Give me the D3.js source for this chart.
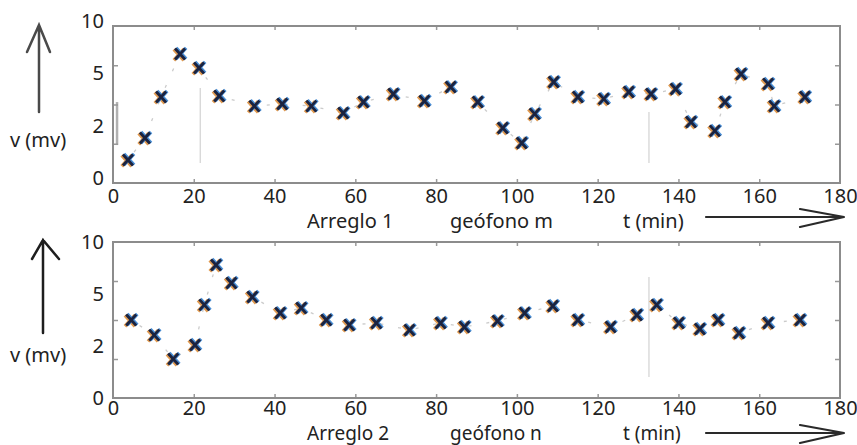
<!DOCTYPE html>
<html><head><meta charset="utf-8">
<script src="https://cdn.jsdelivr.net/npm/d3@7"></script>
<style>body{margin:0;background:#fff}svg{display:block;font-family:"Noto Sans",sans-serif}</style>
</head><body><svg id="c" width="857" height="445"></svg>
<script>
// ---- data ----
const xTickValues = [0, 20, 40, 60, 80, 100, 120, 140, 160, 180];
const yTickValues = [0, 2, 5, 10];
const yAxisLabel = "v (mv)";

const t1 = [3.7, 7.9, 11.9, 16.6, 21.3, 26.3, 35.0, 41.9, 49.1, 57.0, 62.0, 69.4, 77.1, 83.6, 90.3, 96.5, 101.2, 104.4, 109.1, 115.1, 121.5, 127.7, 133.2, 139.3, 143.1, 149.0, 151.5, 155.5, 162.2, 163.7, 171.3];
const v1 = [0.88, 1.72, 3.93, 7.33, 5.99, 3.99, 3.41, 3.53, 3.41, 3.01, 3.64, 4.10, 3.70, 4.50, 3.64, 2.15, 1.53, 2.96, 4.79, 3.93, 3.82, 4.22, 4.10, 4.39, 2.50, 1.99, 3.64, 5.42, 4.68, 3.41, 3.93];

const t2 = [4.5, 10.2, 14.9, 20.3, 22.6, 25.5, 29.3, 34.5, 41.4, 46.6, 52.8, 58.5, 65.2, 73.4, 81.1, 87.0, 95.2, 101.9, 108.9, 115.1, 123.2, 129.7, 134.6, 140.1, 145.3, 149.8, 155.0, 162.2, 170.1];
const v2 = [3.5, 2.63, 1.5, 2.06, 4.37, 7.79, 6.06, 4.83, 3.90, 4.19, 3.5, 3.21, 3.33, 2.92, 3.33, 3.10, 3.44, 3.90, 4.31, 3.5, 3.10, 3.79, 4.37, 3.33, 2.98, 3.5, 2.75, 3.33, 3.5];

const labels1 = ["Arreglo 1", "geófono m", "t (min)"];
const labels2 = ["Arreglo 2", "geófono n", "t (min)"];

// faint scan artefacts: [t, vFrom, vTo]
const faint1 = [[21.6, 0.76, 4.45], [132.7, 0.76, 3.07]];
const bracket1 = [[1.0, 1.45, 3.64]];
const faint2 = [[132.7, 0.81, 6.63]];

// ---- layout ----
const svg = d3.select("#c");
const X0 = 113, X1 = 840;
const panels = [
  {top: 26, bottom: 183, t: t1, v: v1, labels: labels1, faint: faint1, bracket: bracket1,
   yLabShift: -5, xPad: 6, textBase: 228, textSize: 20, vArrow: [39, 25, 112, 27, 50, 52], vArrowCol: "#4a4a4a", hArrowY: 217, vLabY: 147},
  {top: 242, bottom: 398, t: t2, v: v2, labels: labels2, faint: faint2, bracket: [],
   yLabShift: 0, xPad: 3, textBase: 440, textSize: 19, vArrow: [43, 240, 333, 32, 59, 259], vArrowCol: "#1e1e1e", hArrowY: 433, vLabY: 362}
];
const textX = [307, 450, 623];

const x = d3.scaleLinear().domain([0, 180]).range([X0, X1]);
const frameCol = "#8c8c8c";

panels.forEach(p => {
  const h = p.bottom - p.top;
  const y = d3.scaleLinear().domain(yTickValues).range([p.bottom, p.bottom - h/3, p.bottom - 2*h/3, p.top]);
  const q = d3.scaleLinear().domain([0, 4]).range([p.bottom, p.top]);
  const g = svg.append("g");

  // faint artefact lines
  p.faint.forEach(d => g.append("line").attr("x1", x(d[0])).attr("x2", x(d[0]))
    .attr("y1", y(d[1])).attr("y2", y(d[2])).attr("stroke", "#d2d2d2").attr("stroke-width", 1.2));
  p.bracket.forEach(d => g.append("line").attr("x1", x(d[0])).attr("x2", x(d[0]))
    .attr("y1", y(d[1])).attr("y2", y(d[2])).attr("stroke", "#b0b0b0").attr("stroke-width", 2.5));

  // minor tick marks (inside frame)
  const tickCol = "#999";
  const xt = xTickValues.slice(1, -1);
  g.append("g").attr("transform", `translate(0,${p.top})`)
    .call(d3.axisBottom(x).tickValues(xt).tickSize(4).tickFormat(""))
    .call(a => a.select(".domain").remove()).selectAll("line").attr("stroke", tickCol).attr("stroke-width", 1.5);
  g.append("g").attr("transform", `translate(0,${p.bottom})`)
    .call(d3.axisTop(x).tickValues(xt).tickSize(4).tickFormat(""))
    .call(a => a.select(".domain").remove()).selectAll("line").attr("stroke", tickCol).attr("stroke-width", 1.5);
  g.append("g").attr("transform", `translate(${X0},0)`)
    .call(d3.axisRight(q).tickValues([1, 2, 3]).tickSize(5).tickFormat(""))
    .call(a => a.select(".domain").remove()).selectAll("line").attr("stroke", tickCol).attr("stroke-width", 1.5);
  g.append("g").attr("transform", `translate(${X1},0)`)
    .call(d3.axisLeft(q).tickValues([1, 2, 3]).tickSize(5).tickFormat(""))
    .call(a => a.select(".domain").remove()).selectAll("line").attr("stroke", tickCol).attr("stroke-width", 1.5);

  // frame
  g.append("rect").attr("x", X0).attr("y", p.top).attr("width", X1 - X0).attr("height", h)
    .attr("fill", "none").attr("stroke", frameCol).attr("stroke-width", 2);

  // tick labels
  const xa = g.append("g").attr("transform", `translate(0,${p.bottom})`)
    .call(d3.axisBottom(x).tickValues(xTickValues).tickSize(0).tickPadding(p.xPad).tickFormat(d3.format("d")));
  xa.select(".domain").remove();
  xa.selectAll("text").attr("font-size", 20).attr("font-family", "Noto Sans").attr("fill", "#222");

  const ya = g.append("g").attr("transform", `translate(${X0},${p.yLabShift})`)
    .call(d3.axisLeft(y).tickValues(yTickValues).tickSize(0).tickPadding(9).tickFormat(d3.format("d")));
  ya.select(".domain").remove();
  ya.selectAll("text").attr("font-size", 20).attr("font-family", "Noto Sans").attr("fill", "#222");

  // faint dashed connection
  const pts = p.t.map((t, i) => [t, p.v[i]]);
  g.append("path").datum(pts)
    .attr("d", d3.line().x(d => x(d[0])).y(d => y(d[1])))
    .attr("fill", "none").attr("stroke", "#a8a8a8").attr("stroke-width", 1.3)
    .attr("stroke-dasharray", "3,15").attr("stroke-dashoffset", -10).attr("opacity", 0.6);

  // markers
  const xp = "M-5,-5.5L5,5.5M5,-5.5L-5,5.5";
  const m = g.selectAll(".m").data(pts).join("g")
    .attr("transform", d => `translate(${x(d[0])},${y(d[1])})`);
  m.append("path").attr("d", xp).attr("transform", "translate(-1.2,0.8)")
    .attr("stroke", "#e09a50").attr("stroke-width", 3.6).attr("fill", "none");
  m.append("path").attr("d", xp).attr("transform", "translate(1.1,-0.5)")
    .attr("stroke", "#4a8fd6").attr("stroke-width", 3.4).attr("fill", "none");
  m.append("path").attr("d", xp)
    .attr("stroke", "#1b2340").attr("stroke-width", 2.8).attr("fill", "none");

  // bottom texts
  p.labels.forEach((s, i) => g.append("text").attr("x", textX[i]).attr("y", p.textBase)
    .attr("font-size", p.textSize).attr("fill", "#222").text(s));

  // y label
  g.append("text").attr("x", 10).attr("y", p.vLabY).attr("font-size", 20).attr("fill", "#222").text(yAxisLabel);

  // vertical arrow
  const a = p.vArrow;
  g.append("path").attr("d", `M${a[0]},${a[2]}L${a[0]},${a[1]}M${a[3]},${a[5]}L${a[0]},${a[1]}L${a[4]},${a[5]}`)
    .attr("fill", "none").attr("stroke", p.vArrowCol).attr("stroke-width", 2.5).attr("stroke-linecap", "round");

  // horizontal arrow
  const hy = p.hArrowY;
  g.append("path").attr("d", `M706,${hy}L844,${hy}M800,${hy - 8}L844,${hy}L800,${hy + 10}`)
    .attr("fill", "none").attr("stroke", "#2a2a2a").attr("stroke-width", 2.2).attr("stroke-linecap", "round");
});
</script></body></html>
